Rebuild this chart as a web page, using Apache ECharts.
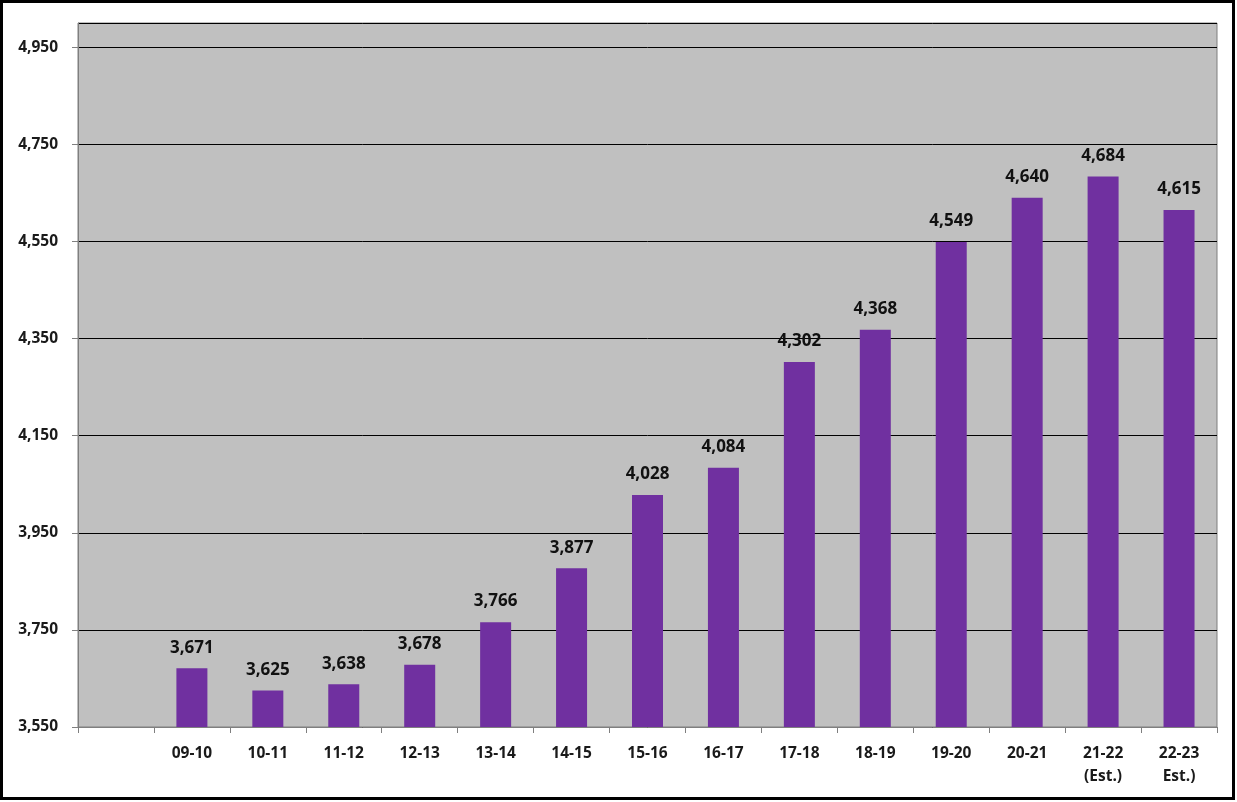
<!DOCTYPE html>
<html><head><meta charset="utf-8">
<script src="https://cdn.jsdelivr.net/npm/echarts@6/dist/echarts.min.js"></script>
<style>html,body{margin:0;padding:0;background:#fff}#c{width:1237px;height:802px}</style>
</head><body><div id="c"></div>
<script>
const categories = ["", "09-10", "10-11", "11-12", "12-13", "13-14", "14-15", "15-16", "16-17", "17-18", "18-19", "19-20", "20-21", "21-22\n(Est.)", "22-23\nEst.)"];
const values = [null, 3671, 3625, 3638, 3678, 3766, 3877, 4028, 4084, 4302, 4368, 4549, 4640, 4684, 4615];
const yMin = 3550, yMax = 5000, yStep = 200;

const chart = echarts.init(document.getElementById('c'), null, {renderer: 'canvas'});
const font = '"Open Sans", "DejaVu Sans", sans-serif';
chart.setOption({
  animation: false,
  grid: {left: 78, right: 20, top: 23, bottom: 75, show: true, backgroundColor: '#C0C0C0', borderColor: '#7f7f7f', borderWidth: 1},
  graphic: [{type: 'rect', shape: {x: 1.5, y: 1.5, width: 1232, height: 797}, style: {fill: 'none', stroke: '#000', lineWidth: 3}, z: 100}],
  xAxis: {
    type: 'category', data: categories,
    axisLine: {lineStyle: {color: '#7f7f7f', width: 1}},
    axisTick: {show: true, alignWithLabel: false, length: 6, lineStyle: {color: '#7f7f7f'}},
    axisLabel: {color: '#1a1a1a', fontFamily: font, fontWeight: 'bold', fontSize: 15.5, margin: 15, lineHeight: 23, interval: 0}
  },
  yAxis: {
    type: 'value', min: yMin, max: yMax, interval: yStep,
    axisLine: {show: true, lineStyle: {color: '#7f7f7f'}},
    axisTick: {show: true, length: 6, lineStyle: {color: '#7f7f7f'}},
    splitLine: {lineStyle: {color: '#000', width: 1}},
    axisLabel: {color: '#1a1a1a', fontFamily: font, fontWeight: 'bold', fontSize: 15.5, margin: 20, showMaxLabel: false,
      formatter: v => v.toLocaleString('en-US')}
  },
  series: [{
    type: 'bar', data: values, barWidth: 31,
    itemStyle: {color: '#7030A0'},
    label: {show: true, position: 'top', distance: 12, color: '#111', fontFamily: font, fontWeight: 'bold', fontSize: 17,
      formatter: p => p.value == null ? '' : p.value.toLocaleString('en-US')}
  }]
});
</script></body></html>
